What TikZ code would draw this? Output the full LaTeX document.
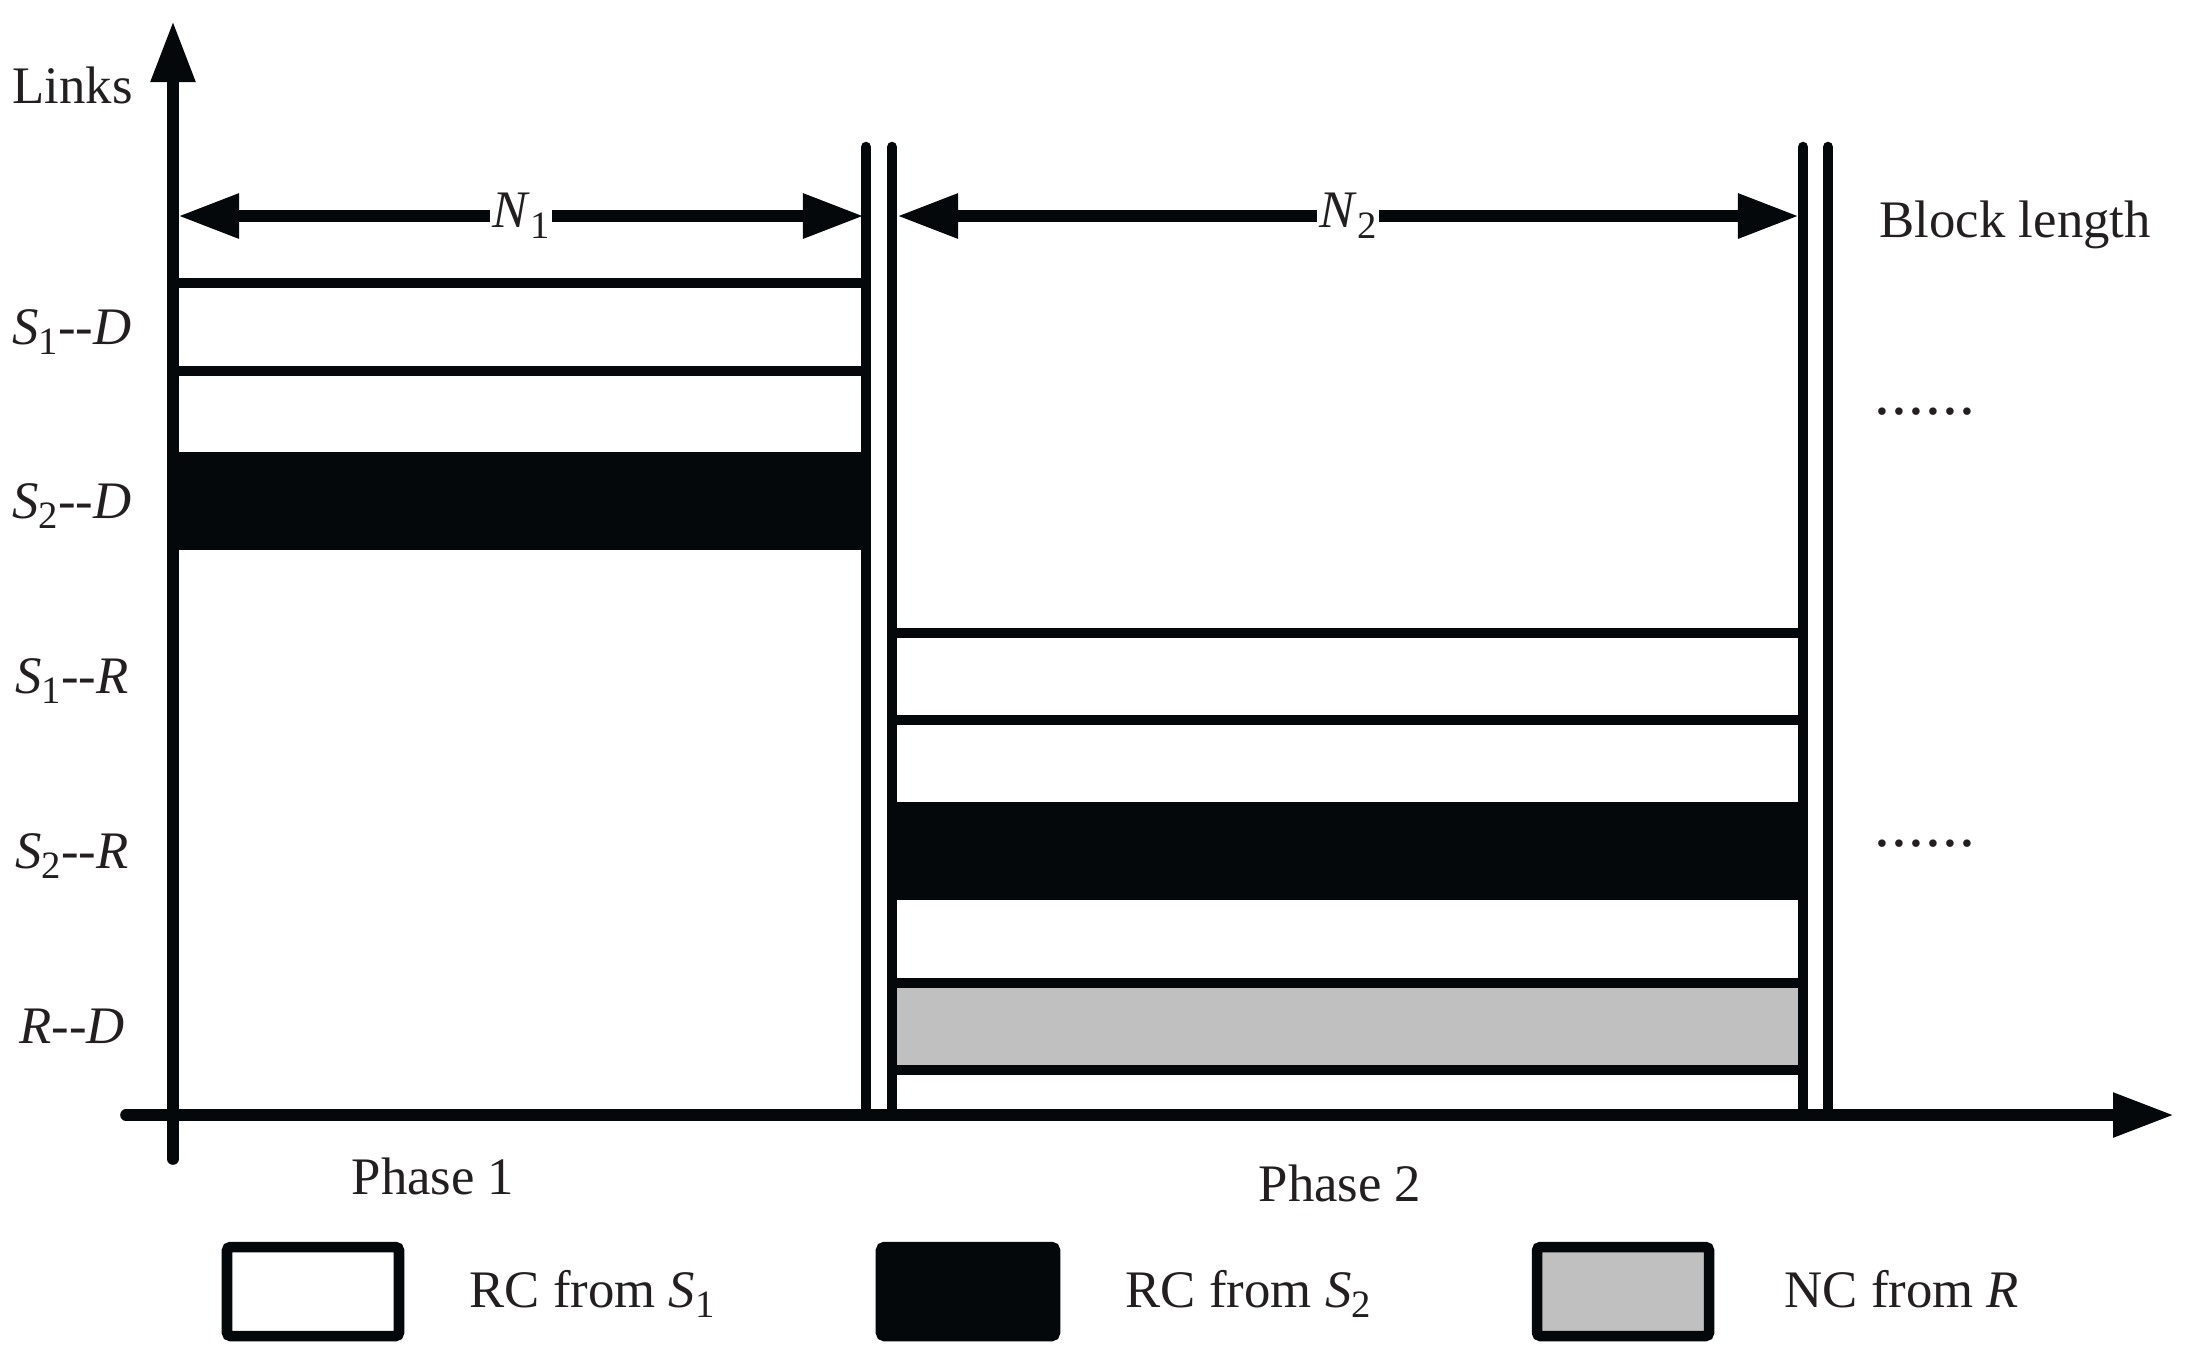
\documentclass[tikz,border=0pt]{standalone}
\usepackage{fontspec}
\setmainfont{Liberation Serif}
\usetikzlibrary{arrows.meta}
\definecolor{ink}{RGB}{4,8,10}
\definecolor{txt}{RGB}{35,31,32}
\definecolor{ncgray}{RGB}{192,192,192}
\newcommand\mysb[1]{\raisebox{-0.45ex}{\fontsize{11}{11}\selectfont #1}}
\newcommand\vS[1]{\textit{S}\mysb{#1}}
\begin{document}
\begin{tikzpicture}[x=0.01cm,y=-0.01cm,
  lbl/.style={font=\fontsize{15}{18}\selectfont, text=txt, inner sep=0pt},
  bar/.style={draw=ink, line width=3pt},
  vline/.style={draw=ink, line width=3pt, line cap=round},
  axisline/.style={draw=ink, line width=3.3pt, line cap=round, -{Triangle[length=0.61cm,width=0.42cm]}},
  dimline/.style={draw=ink, line width=3.4pt, {Triangle[length=0.61cm,width=0.42cm]}-{Triangle[length=0.61cm,width=0.42cm]}},
  nlbl/.style={lbl, fill=white, inner sep=0.8pt},
  legbox/.style={draw=ink, line width=3pt, rounded corners=1pt}]
\useasboundingbox (0,0) rectangle (2195,1359);
\fill[white] (0,0) rectangle (2195,1359);

% phase 1 bars
\draw[bar, fill=white] (173,283) rectangle (866,371);
\fill[ink] (173,452) rectangle (866,550);
% phase 2 bars
\draw[bar, fill=white] (892,633) rectangle (1803,720);
\fill[ink] (892,802) rectangle (1803,900);
\draw[bar, fill=ncgray] (892,983) rectangle (1803,1070);

% vertical separators
\coordinate (v1t) at (866,147); \coordinate (v1b) at (866,1112);
\coordinate (v2t) at (892,147); \coordinate (v2b) at (892,1112);
\coordinate (v3t) at (1803,147); \coordinate (v3b) at (1803,1112);
\coordinate (v4t) at (1828,147); \coordinate (v4b) at (1828,1112);
\draw[vline] (v1t) -- (v1b);
\draw[vline] (v2t) -- (v2b);
\draw[vline] (v3t) -- (v3b);
\draw[vline] (v4t) -- (v4b);

% axes
\coordinate (ybot) at (173,1159); \coordinate (ytop) at (173,21);
\coordinate (xl) at (126,1115); \coordinate (xr) at (2174,1115);
\draw[axisline] (ybot) -- (ytop);
\draw[axisline] (xl) -- (xr);

% block length arrows
\coordinate (n1l) at (178,216); \coordinate (n1r) at (864,216);
\coordinate (n2l) at (897,216); \coordinate (n2r) at (1799,216);
\draw[dimline] (n1l) -- node[nlbl] (N1) {\textit{N}\mysb{1}} (n1r);
\draw[dimline] (n2l) -- node[nlbl] (N2) {\textit{N}\mysb{2}} (n2r);

% texts
\node[lbl, anchor=base west] (links) at (12,103) {Links};
\node[lbl, anchor=base west] (blk) at (1879,237) {Block length};
\node[lbl, anchor=base] (r1) at (72,344) {\vS{1}-{}-\textit{D}};
\node[lbl, anchor=base] (r2) at (72,518) {\vS{2}-{}-\textit{D}};
\node[lbl, anchor=base] (r3) at (72,693) {\vS{1}-{}-\textit{R}};
\node[lbl, anchor=base] (r4) at (72,868) {\vS{2}-{}-\textit{R}};
\node[lbl, anchor=base] (r5) at (72,1043) {\textit{R}-{}-\textit{D}};
\node[lbl, anchor=base] (ph1) at (433,1194) {Phase 1};
\node[lbl, anchor=base] (ph2) at (1340,1201) {Phase 2};
\node[lbl, anchor=base west, font=\fontsize{18}{20}\selectfont] (d1) at (1874,414) {.\kern0.3pt.\kern0.3pt.\kern0.3pt.\kern0.3pt.\kern0.3pt.};
\node[lbl, anchor=base west, font=\fontsize{18}{20}\selectfont] (d2) at (1874,846) {.\kern0.3pt.\kern0.3pt.\kern0.3pt.\kern0.3pt.\kern0.3pt.};

% legend
\draw[legbox, fill=white] (227,1247) rectangle (399,1336);
\draw[legbox, fill=ink] (881,1247) rectangle (1055,1336);
\draw[legbox, fill=ncgray] (1537,1247) rectangle (1709,1336);
\node[lbl, anchor=base west] (lg1) at (469,1307) {RC from \vS{1}};
\node[lbl, anchor=base west] (lg2) at (1125,1307) {RC from \vS{2}};
\node[lbl, anchor=base west] (lg3) at (1784,1307) {NC from \textit{R}};
\end{tikzpicture}
\end{document}
